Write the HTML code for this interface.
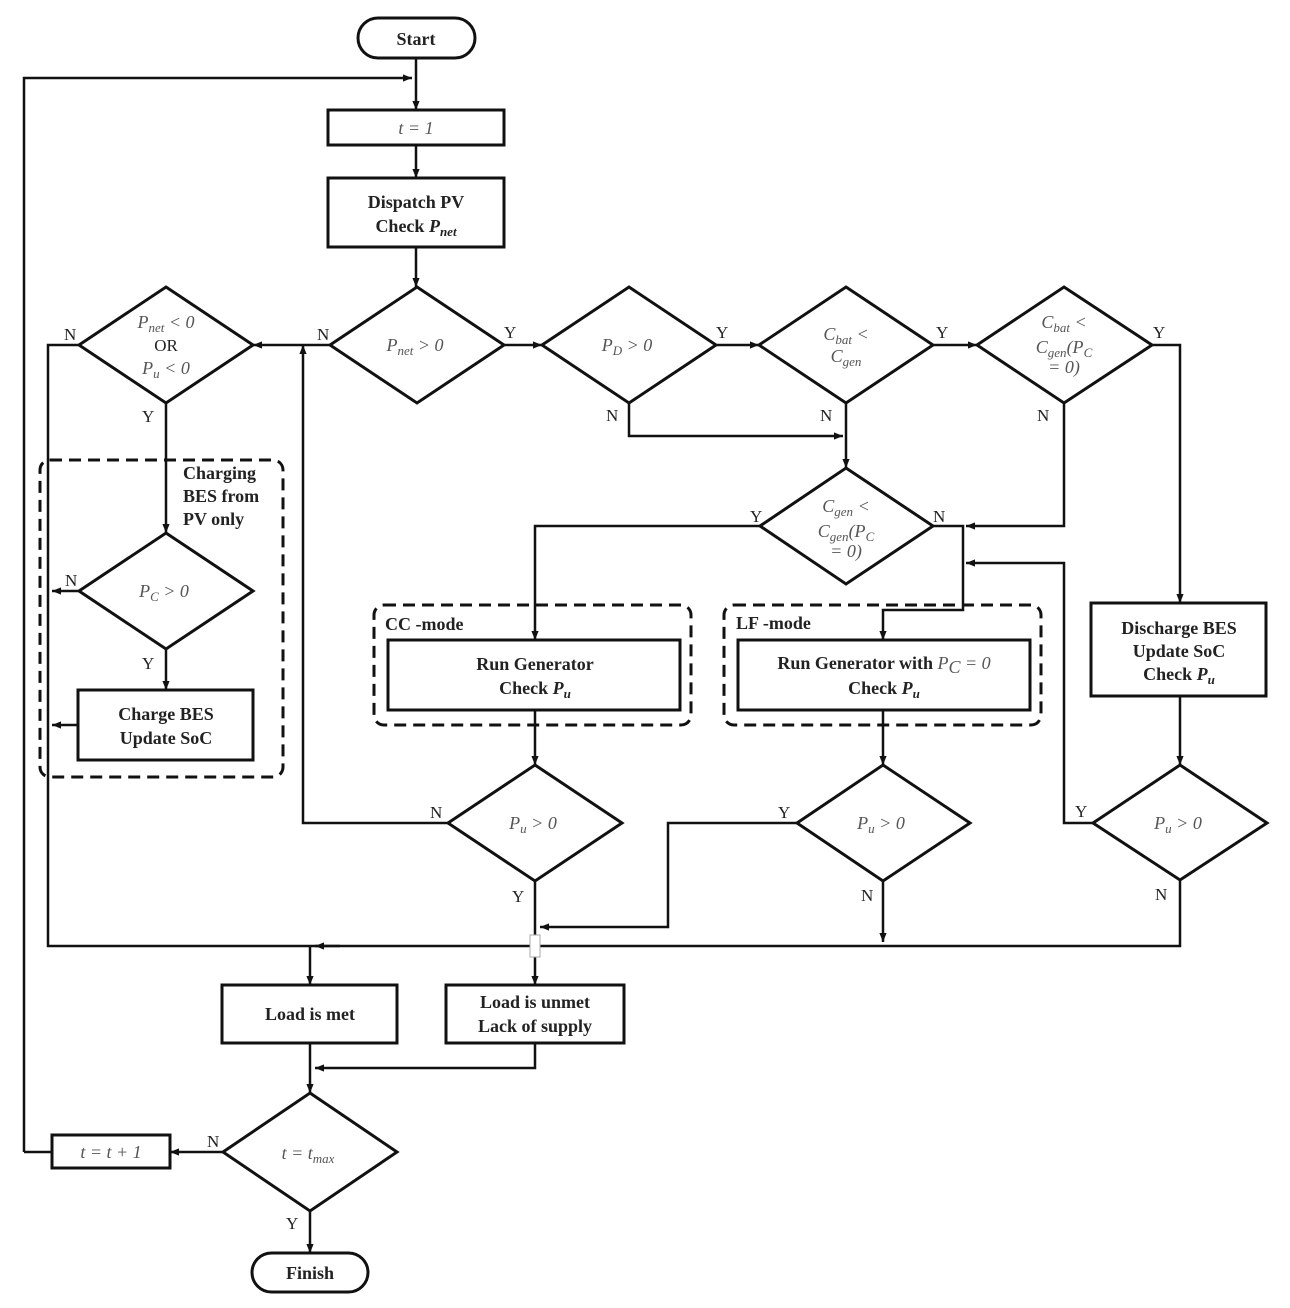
<!DOCTYPE html>
<html><head><meta charset="utf-8"><style>
html,body{margin:0;padding:0;background:#fff}
svg{display:block}
.b{font-family:"Liberation Serif",serif;font-weight:bold;font-size:18px;fill:#222}
.m{font-family:"Liberation Serif",serif;font-style:italic;font-size:18px;fill:#555}
.l{font-family:"Liberation Serif",serif;font-size:17px;fill:#222}
</style></head><body>
<svg width="1290" height="1308" viewBox="0 0 1290 1308" xmlns="http://www.w3.org/2000/svg">
<defs><marker id="a" viewBox="0 0 10 10" refX="10" refY="5" markerWidth="9" markerHeight="9" markerUnits="userSpaceOnUse" orient="auto"><path d="M0,1 L10,5 L0,9 z" fill="#111"/></marker></defs>
<g fill="none" stroke="#111" stroke-width="3">
<rect x="358" y="18" width="117" height="40" rx="20"/>
<rect x="328" y="110" width="176" height="35"/>
<rect x="328" y="178" width="176" height="69"/>
<polygon points="417,287 504,345 417,403 330,345"/>
<polygon points="629,287 716,345 629,403 542,345"/>
<polygon points="846,287 933,345 846,403 759,345"/>
<polygon points="1064,287 1152,345 1064,403 977,345"/>
<polygon points="166,287 253,345 166,403 79,345"/>
<polygon points="166,533 253,591 166,649 79,591"/>
<rect x="78" y="690" width="175" height="70"/>
<polygon points="846,468 933,526 846,584 760,526"/>
<rect x="388" y="640" width="292" height="70"/>
<rect x="738" y="640" width="292" height="70"/>
<rect x="1091" y="603" width="175" height="93"/>
<polygon points="535,765 622,823 535,881 448,823"/>
<polygon points="883,765 970,823 883,881 797,823"/>
<polygon points="1180,765 1267,823 1180,880 1093,823"/>
<rect x="222" y="985" width="175" height="58"/>
<rect x="446" y="985" width="178" height="58"/>
<polygon points="310,1093 397,1152 310,1211 223,1152"/>
<rect x="52" y="1135" width="118" height="33"/>
<rect x="252" y="1253" width="116" height="39" rx="19.5"/>
</g>
<g fill="none" stroke="#111" stroke-width="3" stroke-dasharray="12,7">
<rect x="40" y="460" width="243" height="317" rx="10"/>
<rect x="374" y="605" width="317" height="120" rx="10"/>
<rect x="724" y="605" width="317" height="120" rx="10"/>
</g>
<g fill="none" stroke="#111" stroke-width="2.5">
<path d="M416,58 V110" marker-end="url(#a)"/>
<path d="M24,1152 V78 H412" marker-end="url(#a)"/>
<path d="M416,145 V178" marker-end="url(#a)"/>
<path d="M416,247 V287" marker-end="url(#a)"/>
<path d="M330,345 H253" marker-end="url(#a)"/>
<path d="M504,345 H542" marker-end="url(#a)"/>
<path d="M716,345 H759" marker-end="url(#a)"/>
<path d="M933,345 H977" marker-end="url(#a)"/>
<path d="M1152,345 H1180 V603" marker-end="url(#a)"/>
<path d="M629,403 V436 H843" marker-end="url(#a)"/>
<path d="M846,403 V468" marker-end="url(#a)"/>
<path d="M1064,403 V526 H966" marker-end="url(#a)"/>
<path d="M1093,823 H1064 V563 H966" marker-end="url(#a)"/>
<path d="M933,526 H963 V610 H883 V640" marker-end="url(#a)"/>
<path d="M760,526 H535 V640" marker-end="url(#a)"/>
<path d="M535,710 V765" marker-end="url(#a)"/>
<path d="M883,710 V765" marker-end="url(#a)"/>
<path d="M1180,696 V765" marker-end="url(#a)"/>
<path d="M448,823 H303 V345" marker-end="url(#a)"/>
<path d="M79,345 H48 V946 H1180 V880"/>
<path d="M340,946 H315" marker-end="url(#a)"/>
<path d="M310,946 V985" marker-end="url(#a)"/>
<path d="M166,403 V533" marker-end="url(#a)"/>
<path d="M79,591 H52" marker-end="url(#a)"/>
<path d="M166,649 V690" marker-end="url(#a)"/>
<path d="M78,725 H52" marker-end="url(#a)"/>
<path d="M535,881 V985" marker-end="url(#a)"/>
<path d="M797,823 H668 V927 H540" marker-end="url(#a)"/>
<path d="M883,881 V942" marker-end="url(#a)"/>
<path d="M310,1043 V1093" marker-end="url(#a)"/>
<path d="M535,1043 V1068 H315" marker-end="url(#a)"/>
<path d="M223,1152 H170" marker-end="url(#a)"/>
<path d="M24,1152 H52"/>
<path d="M310,1211 V1253" marker-end="url(#a)"/>
</g>
<rect x="530" y="935" width="10" height="22" fill="#fff" stroke="#aaa" stroke-width="1"/>
<g text-anchor="middle">
<text class="b" x="416" y="45">Start</text>
<text class="m" x="416" y="134">t = 1</text>
<text class="b" x="416" y="208">Dispatch PV</text>
<text class="b" x="416" y="232">Check <tspan font-style="italic">P</tspan><tspan font-style="italic" font-size="13" dy="4">net</tspan></text>
<text class="m" x="415" y="351">P<tspan font-size="13" dy="4">net</tspan><tspan dy="-4"> &gt; 0</tspan></text>
<text class="m" x="627" y="351">P<tspan font-size="13" dy="4">D</tspan><tspan dy="-4"> &gt; 0</tspan></text>
<text class="m" x="846" y="340">C<tspan font-size="13" dy="4">bat</tspan><tspan dy="-4"> &lt;</tspan></text>
<text class="m" x="846" y="362">C<tspan font-size="13" dy="4">gen</tspan></text>
<text class="m" x="1064" y="328">C<tspan font-size="13" dy="4">bat</tspan><tspan dy="-4"> &lt;</tspan></text>
<text class="m" x="1064" y="353">C<tspan font-size="13" dy="4">gen</tspan><tspan dy="-4">(P</tspan><tspan font-size="13" dy="4">C</tspan></text>
<text class="m" x="1064" y="373" font-style="normal">= 0)</text>
<text class="m" x="166" y="328">P<tspan font-size="13" dy="4">net</tspan><tspan dy="-4"> &lt; 0</tspan></text>
<text class="l" x="166" y="351" fill="#444">OR</text>
<text class="m" x="166" y="374">P<tspan font-size="13" dy="4">u</tspan><tspan dy="-4"> &lt; 0</tspan></text>
<text class="m" x="164" y="597">P<tspan font-size="13" dy="4">C</tspan><tspan dy="-4"> &gt; 0</tspan></text>
<text class="b" x="166" y="720">Charge BES</text>
<text class="b" x="166" y="744">Update SoC</text>
<text class="m" x="846" y="512">C<tspan font-size="13" dy="4">gen</tspan><tspan dy="-4"> &lt;</tspan></text>
<text class="m" x="846" y="537">C<tspan font-size="13" dy="4">gen</tspan><tspan dy="-4">(P</tspan><tspan font-size="13" dy="4">C</tspan></text>
<text class="m" x="846" y="557" font-style="normal">= 0)</text>
<text class="b" x="535" y="670">Run Generator</text>
<text class="b" x="535" y="694">Check <tspan font-style="italic">P</tspan><tspan font-style="italic" font-size="13" dy="4">u</tspan></text>
<text class="b" x="884" y="669">Run Generator with <tspan class="m" font-weight="normal">P</tspan><tspan class="m" font-weight="normal" font-size="13" dy="4">C</tspan><tspan class="m" font-weight="normal" font-style="normal" dy="-4"> = 0</tspan></text>
<text class="b" x="884" y="694">Check <tspan font-style="italic">P</tspan><tspan font-style="italic" font-size="13" dy="4">u</tspan></text>
<text class="b" x="1179" y="634">Discharge BES</text>
<text class="b" x="1179" y="657">Update SoC</text>
<text class="b" x="1179" y="680">Check <tspan font-style="italic">P</tspan><tspan font-style="italic" font-size="13" dy="4">u</tspan></text>
<text class="m" x="533" y="829">P<tspan font-size="13" dy="4">u</tspan><tspan dy="-4"> &gt; 0</tspan></text>
<text class="m" x="881" y="829">P<tspan font-size="13" dy="4">u</tspan><tspan dy="-4"> &gt; 0</tspan></text>
<text class="m" x="1178" y="829">P<tspan font-size="13" dy="4">u</tspan><tspan dy="-4"> &gt; 0</tspan></text>
<text class="b" x="310" y="1020">Load is met</text>
<text class="b" x="535" y="1008">Load is unmet</text>
<text class="b" x="535" y="1032">Lack of supply</text>
<text class="m" x="308" y="1159">t = t<tspan font-size="13" dy="4">max</tspan></text>
<text class="m" x="111" y="1158">t = t + 1</text>
<text class="b" x="310" y="1279">Finish</text>
</g>
<g text-anchor="start">
<text class="b" x="183" y="479">Charging</text>
<text class="b" x="183" y="502">BES from</text>
<text class="b" x="183" y="525">PV only</text>
<text class="b" x="385" y="630">CC -mode</text>
<text class="b" x="736" y="629">LF -mode</text>
</g>
<g class="l">
<text class="l" x="64" y="340">N</text>
<text class="l" x="142" y="422">Y</text>
<text class="l" x="317" y="340">N</text>
<text class="l" x="504" y="338">Y</text>
<text class="l" x="716" y="338">Y</text>
<text class="l" x="936" y="338">Y</text>
<text class="l" x="1153" y="338">Y</text>
<text class="l" x="606" y="421">N</text>
<text class="l" x="820" y="421">N</text>
<text class="l" x="1037" y="421">N</text>
<text class="l" x="750" y="522">Y</text>
<text class="l" x="933" y="522">N</text>
<text class="l" x="65" y="586">N</text>
<text class="l" x="142" y="669">Y</text>
<text class="l" x="430" y="818">N</text>
<text class="l" x="778" y="818">Y</text>
<text class="l" x="1075" y="817">Y</text>
<text class="l" x="512" y="902">Y</text>
<text class="l" x="861" y="901">N</text>
<text class="l" x="1155" y="900">N</text>
<text class="l" x="207" y="1147">N</text>
<text class="l" x="286" y="1229">Y</text>
</g>
</svg>
</body></html>
